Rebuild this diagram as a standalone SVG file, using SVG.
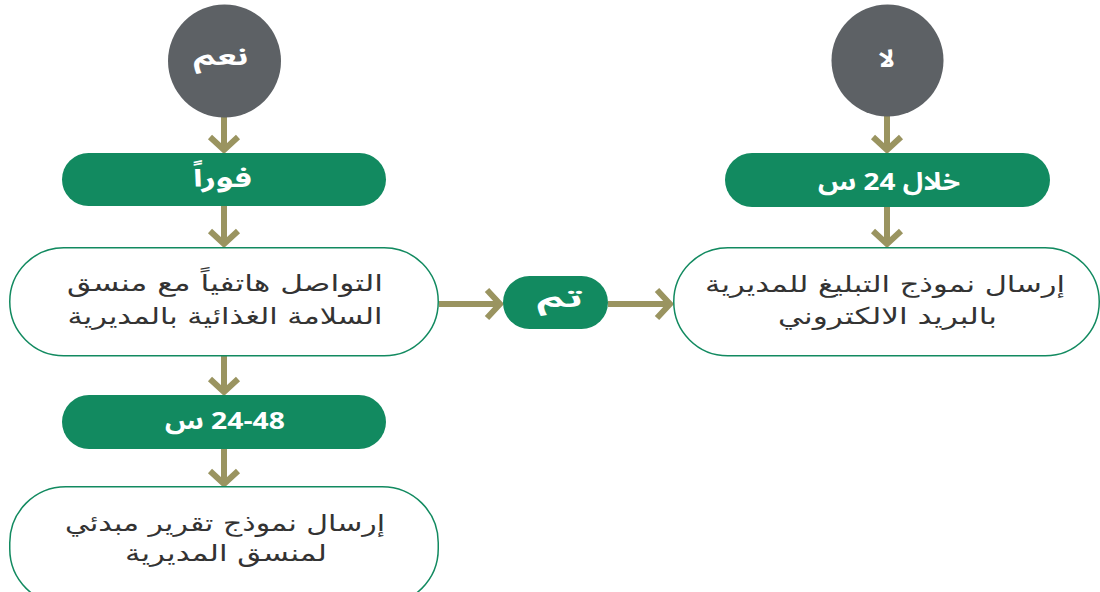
<svg xmlns="http://www.w3.org/2000/svg" width="1100" height="592" viewBox="0 0 1100 592">
<defs>
<style>
.circ{fill:#5d6165}
.pill{fill:#128a60}
.box{fill:#ffffff;stroke:#128a60;stroke-width:1.5}
.lbl{fill:#ffffff;font-family:"Noto Sans Arabic","DejaVu Sans",sans-serif;font-weight:bold;font-size:24px;text-anchor:middle}
.txt{fill:#333333;font-family:"DejaVu Sans",sans-serif;font-weight:normal;font-size:23px;text-anchor:middle}
.con{stroke:#9a9460;stroke-width:6;fill:none}
</style>
<marker id="chev" markerUnits="userSpaceOnUse" viewBox="-20 -20 24 40" markerWidth="24" markerHeight="40" refX="0" refY="0" orient="auto" overflow="visible">
<path d="M-14,-14 L-1,0 L-14,14" fill="none" stroke="#9a9460" stroke-width="6"/>
</marker>
</defs>
<g id="connectors">
<line class="con" x1="224" y1="117" x2="224" y2="151" marker-end="url(#chev)"/>
<line class="con" x1="224" y1="206" x2="224" y2="245" marker-end="url(#chev)"/>
<line class="con" x1="224" y1="356" x2="224" y2="393" marker-end="url(#chev)"/>
<line class="con" x1="224" y1="449" x2="224" y2="485" marker-end="url(#chev)"/>
<line class="con" x1="887" y1="116" x2="887" y2="151" marker-end="url(#chev)"/>
<line class="con" x1="887" y1="207" x2="887" y2="245" marker-end="url(#chev)"/>
<line class="con" x1="439" y1="304" x2="501" y2="304" marker-end="url(#chev)"/>
<line class="con" x1="608" y1="304" x2="671" y2="304" marker-end="url(#chev)"/>
</g>
<g id="yes">
<circle class="circ" cx="224.5" cy="61" r="56.5"/>
<text class="lbl" x="221" y="65" direction="rtl" textLength="55" lengthAdjust="spacingAndGlyphs">نعم</text>
</g>
<g id="no">
<circle class="circ" cx="887.5" cy="60.5" r="56"/>
<text class="lbl" x="886.5" y="67" direction="rtl" textLength="17" lengthAdjust="spacingAndGlyphs">لا</text>
</g>
<g id="immediately">
<rect class="pill" x="62" y="153" width="324" height="53" rx="26.5"/>
<text class="lbl" x="222.5" y="187" direction="rtl" textLength="59" lengthAdjust="spacingAndGlyphs">فوراً</text>
</g>
<g id="within24">
<rect class="pill" x="725" y="153" width="325" height="54" rx="27"/>
<text class="lbl" x="889" y="190" direction="rtl" textLength="142" lengthAdjust="spacingAndGlyphs">خلال 24 س</text>
</g>
<g id="call">
<rect class="box" x="9.75" y="247.75" width="428.5" height="108" rx="54"/>
<text class="txt" x="225" y="291" direction="rtl" textLength="316" lengthAdjust="spacingAndGlyphs">التواصل هاتفياً مع منسق</text>
<text class="txt" x="225" y="324" direction="rtl" textLength="315" lengthAdjust="spacingAndGlyphs">السلامة الغذائية بالمديرية</text>
</g>
<g id="done">
<rect class="pill" x="503" y="276" width="105" height="53" rx="26.5"/>
<text class="lbl" x="560" y="307" direction="rtl" textLength="46" lengthAdjust="spacingAndGlyphs">تم</text>
</g>
<g id="notify">
<rect class="box" x="673.75" y="247.75" width="425.5" height="108" rx="54"/>
<text class="txt" x="885" y="292" direction="rtl" textLength="360" lengthAdjust="spacingAndGlyphs">إرسال نموذج التبليغ للمديرية</text>
<text class="txt" x="887.5" y="324" direction="rtl" textLength="219" lengthAdjust="spacingAndGlyphs">بالبريد الالكتروني</text>
</g>
<g id="h2448">
<rect class="pill" x="62" y="395" width="324" height="54" rx="27"/>
<text class="lbl" x="225" y="429" direction="rtl" textLength="120" lengthAdjust="spacingAndGlyphs">24-48 س</text>
</g>
<g id="report">
<rect class="box" x="9.75" y="486.75" width="428.5" height="118" rx="56"/>
<text class="txt" x="225" y="531" direction="rtl" textLength="320" lengthAdjust="spacingAndGlyphs">إرسال نموذج تقرير مبدئي</text>
<text class="txt" x="226" y="561" direction="rtl" textLength="202" lengthAdjust="spacingAndGlyphs">لمنسق المديرية</text>
</g>
</svg>
